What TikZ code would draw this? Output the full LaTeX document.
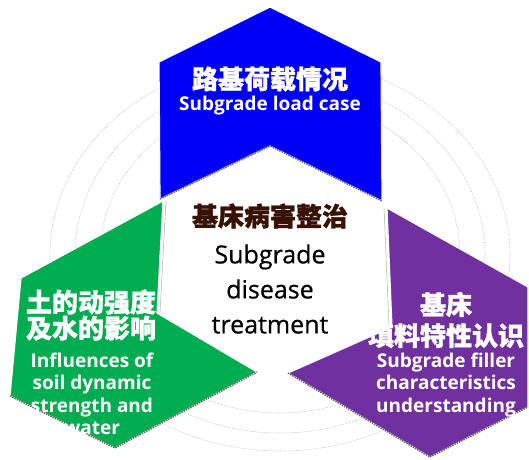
\documentclass[tikz,border=0pt]{standalone}
\usepackage{fontspec}
\setmainfont{Open Sans}
\newfontfamily\osm{Open Sans}[FakeBold=0.6]
\newfontfamily\cjk{Noto Sans CJK SC}[FakeBold=1.2]
\definecolor{cblue}{RGB}{0,0,250}
\definecolor{cgreen}{RGB}{0,172,80}
\definecolor{cpurple}{RGB}{112,48,160}
\definecolor{cbrown}{RGB}{58,17,6}
\begin{document}
\begin{tikzpicture}[x=1pt,y=-1pt,
  ring/.style={densely dotted, gray!55, line width=0.6pt},
  cell/.style={draw=white, line width=1.2pt, line join=miter},
  rim/.style={densely dotted, black!60, line width=1.5pt},
  wt/.style={text=white, align=center, inner sep=0pt},
]
\useasboundingbox (0,0) rectangle (529,459);
\fill[white] (0,0) rectangle (529,459);
\foreach \a/\b in {180/158,205/178,230/196}
  \draw[ring] (280,255) ellipse [x radius=\a, y radius=\b];

% corner points
\coordinate (bT) at (270,7);
\coordinate (bR) at (381,62);
\coordinate (bRB) at (382,201);
\coordinate (hT) at (270,146);
\coordinate (bLB) at (160,199);
\coordinate (bL) at (159,62);

\coordinate (gT) at (163,201);
\coordinate (gL) at (21,278);
\coordinate (gLB) at (10,396);
\coordinate (gB) at (115,448);
\coordinate (gTip) at (257,372);
\coordinate (gN) at (157,313);

\coordinate (pT) at (387,208);
\coordinate (pR) at (528,287);
\coordinate (pRB) at (528,407);
\coordinate (pB) at (430,457);
\coordinate (pTip) at (288,373);
\coordinate (pN) at (392,327);

% shapes
\filldraw[cell, fill=cblue] (bT) -- (bR) -- (bRB) -- (hT) -- (bLB) -- (bL) -- cycle;
\filldraw[cell, fill=cgreen] (gT) -- (gL) -- (gLB) -- (gB) -- (gTip) -- (gN) -- cycle;
\filldraw[cell, fill=cpurple] (pT) -- (pR) -- (pRB) -- (pB) -- (pTip) -- (pN) -- cycle;

% stippled rims
\begin{scope}[yshift=-2pt]
\draw[rim] (bLB) -- (hT) -- (bRB);
\draw[rim] (gLB) -- (gB) -- (gTip);
\draw[rim] (pTip) -- (pB) -- (pRB);
\end{scope}
\draw[gray!60, line width=0.5pt] ([xshift=3pt]gT) -- ([xshift=3pt]gN);
\draw[gray!60, line width=0.5pt] ([xshift=-3pt]pT) -- ([xshift=-3pt]pN);

% texts
\node[wt, font=\cjk\bfseries\fontsize{26}{30}\selectfont] (b1) at (270,79) {路基荷载情况};
\node[wt, font=\bfseries\fontsize{19}{22}\selectfont] (b2) at (270,106) {Subgrade load case};

\node[text=cbrown, inner sep=0pt, font=\cjk\bfseries\fontsize{26}{30}\selectfont] (c1) at (270,216) {基床病害整治};
\node[align=center, inner sep=0pt, font=\osm\fontsize{25}{35}\selectfont] (c2) at (270,289) {Subgrade\\disease\\treatment};

\node[wt, font=\cjk\bfseries\fontsize{26}{24.5}\selectfont] (g1) at (91,315) {土的动强度\\及水的影响};
\node[wt, font=\bfseries\fontsize{19}{22.5}\selectfont] (g2) at (92,394) {Influences of\\soil dynamic\\strength and\\water};

\node[wt, font=\cjk\bfseries\fontsize{26}{31}\selectfont] (p1) at (446,320) {基床\\填料特性认识};
\node[wt, font=\bfseries\fontsize{19}{22}\selectfont] (p2) at (446,385) {Subgrade filler\\characteristics\\understanding};
\end{tikzpicture}
\end{document}
